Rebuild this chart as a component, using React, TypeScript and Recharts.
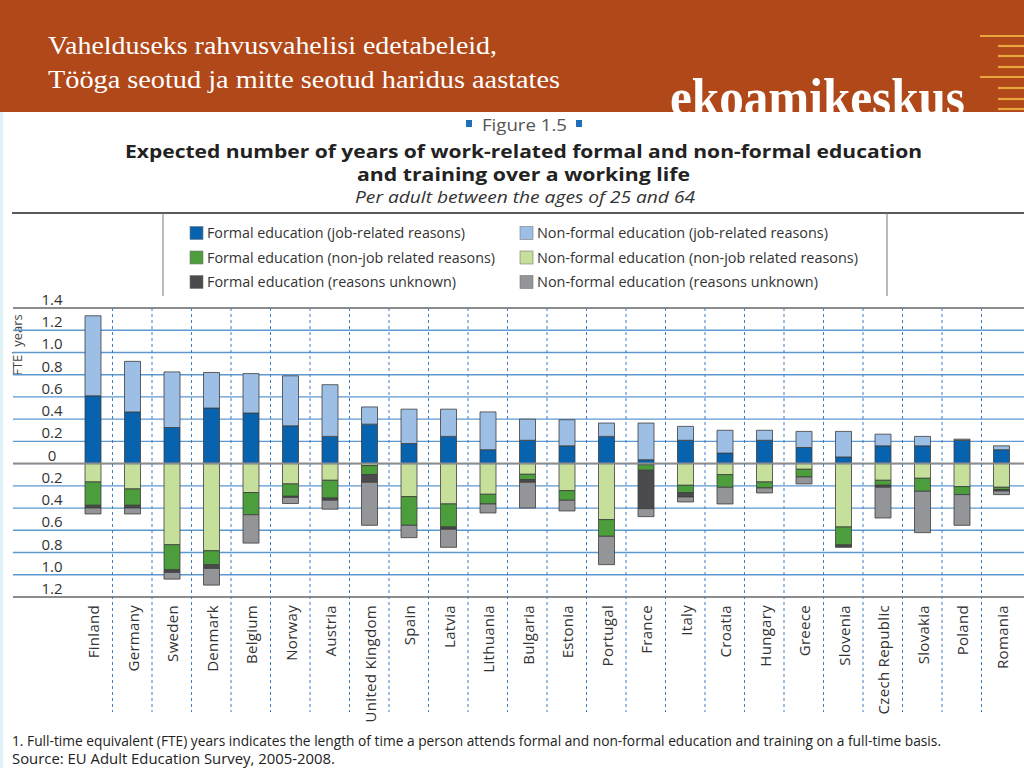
import React from 'react';
import { BarChart, Bar, XAxis, YAxis, CartesianGrid, ReferenceLine } from 'recharts';

// ---------- data ----------
const countries = [
  'Finland', 'Germany', 'Sweden', 'Denmark', 'Belgium', 'Norway', 'Austria', 'United Kingdom',
  'Spain', 'Latvia', 'Lithuania', 'Bulgaria', 'Estonia', 'Portugal', 'France', 'Italy',
  'Croatia', 'Hungary', 'Greece', 'Slovenia', 'Czech Republic', 'Slovakia', 'Poland', 'Romania',
];

// positive stacks (work-related)
const formalJob = [0.61, 0.465, 0.325, 0.5, 0.455, 0.34, 0.245, 0.355, 0.18, 0.245, 0.125, 0.21, 0.16, 0.245, 0.035, 0.21, 0.095, 0.21, 0.145, 0.06, 0.16, 0.16, 0.21, 0.125];
const nonFormalJob = [0.72, 0.455, 0.5, 0.32, 0.355, 0.45, 0.465, 0.155, 0.31, 0.245, 0.34, 0.19, 0.235, 0.12, 0.33, 0.125, 0.205, 0.09, 0.145, 0.23, 0.105, 0.085, 0.01, 0.035];

// negative stacks (non work-related / unknown)
const nonFormalNonJob = [-0.165, -0.228, -0.73, -0.784, -0.26, -0.183, -0.15, -0.018, -0.297, -0.363, -0.276, -0.096, -0.243, -0.504, -0.01, -0.195, -0.099, -0.165, -0.051, -0.57, -0.15, -0.132, -0.207, -0.213];
const formalNonJob = [-0.21, -0.147, -0.225, -0.126, -0.2, -0.111, -0.16, -0.081, -0.258, -0.207, -0.087, -0.048, -0.087, -0.15, -0.05, -0.066, -0.114, -0.054, -0.069, -0.162, -0.045, -0.117, -0.072, -0.021];
const formalUnknown = [-0.024, -0.024, -0.024, -0.033, 0, -0.01, -0.02, -0.069, 0, -0.021, 0, -0.024, 0, 0, -0.345, -0.039, 0, 0, 0, -0.021, -0.018, 0, 0, -0.012];
const nonFormalUnknown = [-0.054, -0.054, -0.06, -0.15, -0.255, -0.055, -0.08, -0.387, -0.111, -0.162, -0.081, -0.231, -0.096, -0.255, -0.072, -0.045, -0.15, -0.045, -0.063, 0, -0.276, -0.372, -0.276, -0.033];

const yTicks = [1.4, 1.2, 1.0, 0.8, 0.6, 0.4, 0.2, 0, -0.2, -0.4, -0.6, -0.8, -1.0, -1.2];
const frameLines = [1.4, 0, -1.2];

const legendLabels = [
  'Formal education (job-related reasons)',
  'Formal education (non-job related reasons)',
  'Formal education (reasons unknown)',
  'Non-formal education (job-related reasons)',
  'Non-formal education (non-job related reasons)',
  'Non-formal education (reasons unknown)',
];

// ---------- styles ----------
const COL = {
  formalJob: '#0763ae',
  nonFormalJob: '#9dbfe6',
  formalNonJob: '#4c9e3c',
  nonFormalNonJob: '#c6e09c',
  formalUnknown: '#4b4b4d',
  nonFormalUnknown: '#949598',
};
const legendColors = [COL.formalJob, COL.formalNonJob, COL.formalUnknown, COL.nonFormalJob, COL.nonFormalNonJob, COL.nonFormalUnknown];
const legendWidths = [258, 288, 249, 291, 321, 281];

const W = 1024;
const H = 768;
const PLOT_TOP = 308;
const PLOT_BOTTOM = 597;
const FONT = '"Open Sans", "DejaVu Sans", sans-serif';
const TXT = '#333333';

const data = countries.map((c, i) => ({
  country: c,
  formalJob: formalJob[i],
  nonFormalJob: nonFormalJob[i],
  nonFormalNonJob: nonFormalNonJob[i],
  formalNonJob: formalNonJob[i],
  formalUnknown: formalUnknown[i],
  nonFormalUnknown: nonFormalUnknown[i],
}));

const fmt = (v: number) => (Math.abs(v) < 1e-9 ? '0' : Math.abs(v).toFixed(1));

const renderYTick = (props: any) => {
  const { y, payload } = props;
  return (
    <text key={`y-${payload.value}`} x={52} y={y - 3} textAnchor="middle" fontSize={15} fill={TXT} fontFamily={FONT}>
      {fmt(payload.value)}
    </text>
  );
};

const XTick = (props: any) => {
  const { x, payload, index } = props;
  const half = payload && typeof payload.offset === 'number' && payload.offset > 0 ? payload.offset : 19.75;
  const bx = x + half;
  return (
    <g>
      {index < countries.length - 1 && (
        <line x1={bx} x2={bx} y1={PLOT_TOP} y2={712} stroke="#3f7fc4" strokeWidth={1} strokeDasharray="3 3" />
      )}
      <text
        transform={`translate(${x + 1},${PLOT_BOTTOM + 8}) rotate(-90)`}
        textAnchor="end"
        dy="0.36em"
        fontSize={15}
        fill={TXT}
        fontFamily={FONT}
        letterSpacing={0.3}
      >
        {payload.value}
      </text>
    </g>
  );
};

const series: { key: string; color: string }[] = [
  { key: 'formalJob', color: COL.formalJob },
  { key: 'nonFormalJob', color: COL.nonFormalJob },
  { key: 'nonFormalNonJob', color: COL.nonFormalNonJob },
  { key: 'formalNonJob', color: COL.formalNonJob },
  { key: 'formalUnknown', color: COL.formalUnknown },
  { key: 'nonFormalUnknown', color: COL.nonFormalUnknown },
];

const stripeYs = [36, 46, 56, 67, 77, 88, 99, 109];

export default function App() {
  return (
    <div style={{ position: 'absolute', left: 0, top: 0, width: W, height: H, background: '#fff', overflow: 'hidden' }}>
      <svg width={W} height={H} style={{ position: 'absolute', left: 0, top: 0 }}>
        {/* header band */}
        <rect x={0} y={0} width={W} height={112} fill="#b0481a" />
        <text x={48} y={54} fontFamily='"Liberation Serif", serif' fontSize={26} fill="#fff" textLength={449} lengthAdjust="spacingAndGlyphs">
          Vahelduseks rahvusvahelisi edetabeleid,
        </text>
        <text x={48} y={88} fontFamily='"Liberation Serif", serif' fontSize={26} fill="#fff" textLength={512} lengthAdjust="spacingAndGlyphs">
          Tööga seotud ja mitte seotud haridus aastates
        </text>
        <text x={670} y={115} fontFamily='"Liberation Serif", serif' fontWeight="bold" fontSize={53} fill="#fff" textLength={295} lengthAdjust="spacingAndGlyphs">
          ekoamikeskus
        </text>
        {stripeYs.map((y, i) => (
          <line key={i} x1={i % 4 === 0 ? 980 : 998} x2={W} y1={y} y2={y} stroke="#e9a53e" strokeWidth={2.2} />
        ))}
        {/* content area */}
        <rect x={0} y={112} width={W} height={H - 112} fill="#ffffff" />
        <rect x={0} y={112} width={3} height={H - 112} fill="#dff2f7" />

        {/* figure heading */}
        <rect x={466} y={120} width={6} height={7} fill="#1f6fb8" />
        <text x={482} y={131} fontFamily={FONT} fontSize={17} fill="#555" textLength={85} lengthAdjust="spacingAndGlyphs">Figure 1.5</text>
        <rect x={576} y={120} width={6} height={7} fill="#1f6fb8" />
        <text x={125} y={158} fontFamily={FONT} fontWeight="bold" fontSize={18} fill="#222" textLength={797} lengthAdjust="spacingAndGlyphs">
          Expected number of years of work-related formal and non-formal education
        </text>
        <text x={357} y={181} fontFamily={FONT} fontWeight="bold" fontSize={18} fill="#222" textLength={333} lengthAdjust="spacingAndGlyphs">
          and training over a working life
        </text>
        <text x={355} y={203} fontFamily={FONT} fontStyle="italic" fontSize={16} fill="#333" textLength={340} lengthAdjust="spacingAndGlyphs">
          Per adult between the ages of 25 and 64
        </text>

        {/* legend frame */}
        <line x1={12} x2={W} y1={213} y2={213} stroke="#5a5a5a" strokeWidth={2} />
        <line x1={163} x2={163} y1={213} y2={296} stroke="#777" strokeWidth={1} />
        <line x1={887} x2={887} y1={213} y2={296} stroke="#777" strokeWidth={1} />
        {legendLabels.map((lab, i) => {
          const col = Math.floor(i / 3);
          const row = i % 3;
          const sx = col === 0 ? 190 : 520;
          const cy = 233 + row * 24.5;
          return (
            <g key={lab}>
              <rect x={sx} y={cy - 6.5} width={13} height={13} fill={legendColors[i]} stroke="#777" strokeWidth={0.6} />
              <text x={sx + 17} y={cy + 5} fontFamily={FONT} fontSize={15} fill={TXT} textLength={legendWidths[i]} lengthAdjust="spacingAndGlyphs">
                {lab}
              </text>
            </g>
          );
        })}

        {/* axis title */}
        <text transform="translate(22,345) rotate(-90)" textAnchor="middle" fontFamily={FONT} fontSize={13} fill="#444">
          FTE<tspan fontSize={8} dy={-5}>1</tspan><tspan dy={5}> years</tspan>
        </text>

        {/* footnotes */}
        <text x={12} y={746} fontFamily={FONT} fontSize={14} fill="#222" textLength={929} lengthAdjust="spacingAndGlyphs">
          1. Full-time equivalent (FTE) years indicates the length of time a person attends formal and non-formal education and training on a full-time basis.
        </text>
        <text x={12} y={764} fontFamily={FONT} fontSize={14} fill="#222" textLength={323} lengthAdjust="spacingAndGlyphs">
          Source: EU Adult Education Survey, 2005-2008.
        </text>
      </svg>

      <div style={{ position: 'absolute', left: 0, top: 0 }}>
        <BarChart
          width={W}
          height={H}
          data={data}
          stackOffset="sign"
          margin={{ top: PLOT_TOP, right: 0, bottom: 0, left: 12 }}
          barCategoryGap={0}
        >
          <CartesianGrid horizontal vertical={false} stroke="#5d98d0" strokeWidth={1.4} />
          <XAxis
            dataKey="country"
            type="category"
            interval={0}
            axisLine={false}
            tickLine={false}
            height={H - PLOT_BOTTOM}
            padding={{ left: 60, right: 3 }}
            tick={<XTick />}
          />
          <YAxis
            type="number"
            domain={[-1.2, 1.4]}
            ticks={yTicks}
            interval={0}
            width={1}
            axisLine={false}
            tickLine={false}
            tick={renderYTick}
            allowDataOverflow
          />
          {frameLines.map((v) => (
            <ReferenceLine key={v} y={v} stroke="#8c8c8c" strokeWidth={2} />
          ))}
          {series.map((s) => (
            <Bar
              key={s.key}
              dataKey={s.key}
              stackId="a"
              fill={s.color}
              stroke="#3c3c3c"
              strokeWidth={0.8}
              barSize={16}
              isAnimationActive={false}
            />
          ))}
        </BarChart>
      </div>
    </div>
  );
}
